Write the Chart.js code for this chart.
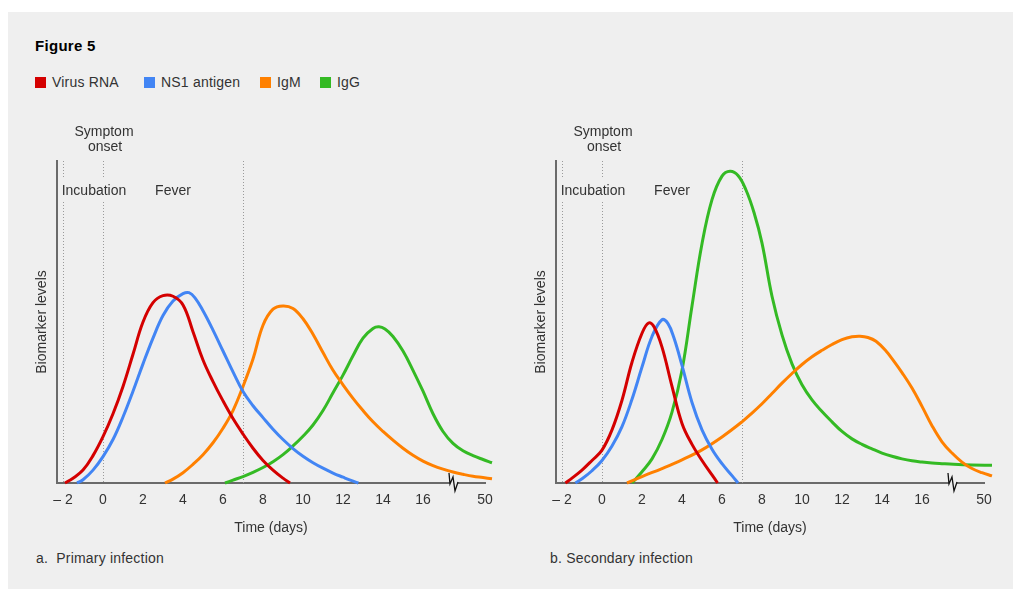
<!DOCTYPE html>
<html>
<head>
<meta charset="utf-8">
<script src="https://cdn.jsdelivr.net/npm/chart.js@4.4.1/dist/chart.umd.min.js"></script>
<style>
  body { margin: 0; background: #fff; font-family: "Liberation Sans", Arial, sans-serif; color: #333; }
  #page { position: absolute; left: 8px; top: 12px; width: 1005px; height: 577px; background: #efefef; }
  .abs { position: absolute; white-space: nowrap; }
  #title { left: 35px; top: 37px; font-size: 15px; font-weight: 900; color: #000; letter-spacing: 0.3px; }
  .sw { position: absolute; top: 77px; width: 11px; height: 11px; }
  .lt { top: 74px; font-size: 14px; letter-spacing: 0.2px; }
  .cap { top: 550px; font-size: 14px; letter-spacing: 0.2px; }
  canvas { position: absolute; }
</style>
</head>
<body>
<div id="page"></div>
<div class="abs" id="title">Figure 5</div>
<div id="legend"></div>
<div class="abs cap" style="left:36px">a.&nbsp; Primary infection</div>
<div class="abs cap" style="left:550px">b. Secondary infection</div>
<div style="position:absolute;left:0;top:100px;width:510px;height:450px"><canvas id="primary"></canvas></div>
<div style="position:absolute;left:499px;top:100px;width:510px;height:450px"><canvas id="secondary"></canvas></div>
<script>
// series names + colours
var seriesNames = ['Virus RNA', 'NS1 antigen', 'IgM', 'IgG'];
var seriesColors = ['rgb(212, 0, 0)', 'rgb(66, 133, 244)', 'rgb(255, 128, 0)', 'rgb(52, 186, 36)'];

// x axis: days, with a break after 16 and a final "50" tick
var tickDays = [-2, 0, 2, 4, 6, 8, 10, 12, 14, 16];
var breakAt = 17.55;
var fiftyAt = 19.1;
var markerDays = [-2, 0, 7];

// a. primary infection
var priRnaDays = [-1.9, -1.5, -1, -0.5, 0, 0.5, 1, 1.5, 2, 2.5, 3, 3.5, 4, 4.5, 5, 5.5, 6, 6.5, 7, 7.5, 8, 8.5, 9, 9.35];
var priRnaLevels = [0, 1.5, 4, 8.5, 14.4, 21.5, 30, 40, 50, 56, 58.2, 58, 55.3, 47, 38.2, 31.5, 25.5, 20, 15.2, 10.8, 7, 4, 1.5, 0];
var priNs1Days = [-1.3, -1, -0.5, 0, 0.5, 1, 1.5, 2, 2.5, 3, 3.5, 4, 4.3, 4.6, 5, 5.5, 6, 6.5, 7, 7.5, 8, 8.5, 9, 9.5, 10, 10.5, 11, 11.5, 12, 12.4, 12.77];
var priNs1Levels = [0, 1, 4, 8.2, 13.5, 20.5, 28.5, 37, 45, 52, 56.5, 58.8, 59.1, 57.5, 53.5, 47.5, 41, 34.5, 28.4, 24, 20.3, 16.7, 13.5, 10.7, 8.3, 6.3, 4.6, 3.1, 1.8, 0.8, 0];
var priIgmDays = [3.1, 3.5, 4, 4.5, 5, 5.5, 6, 6.5, 7, 7.5, 8, 8.5, 9, 9.5, 10, 10.5, 11, 11.5, 12, 12.5, 13, 13.5, 14, 14.5, 15, 15.5, 16, 16.5, 17, 17.5, 18, 18.5, 19, 19.45];
var priIgmLevels = [0, 1.2, 3.2, 5.8, 8.8, 12.5, 17, 22.5, 30, 38.5, 49, 54, 55, 54.2, 51, 46.2, 40.5, 35, 30.5, 26.3, 22.5, 19, 16, 13.3, 10.8, 8.6, 6.8, 5.4, 4.3, 3.4, 2.7, 2.1, 1.7, 1.3];
var priIggDays = [6.1, 6.5, 7, 7.5, 8, 8.5, 9, 9.5, 10, 10.5, 11, 11.5, 12, 12.5, 13, 13.5, 13.8, 14.1, 14.5, 15, 15.5, 16, 16.5, 17, 17.5, 18, 18.5, 19, 19.45];
var priIggLevels = [0, 0.9, 2, 3.3, 4.8, 6.6, 8.8, 11.5, 14.5, 18, 22.5, 28, 33.5, 39.5, 45, 48, 48.5, 47.8, 45.5, 41, 35, 28.5, 21.5, 16, 12.3, 10, 8.5, 7.3, 6.3];

// b. secondary infection
var secRnaDays = [-1.83, -1.5, -1, -0.5, 0, 0.5, 1, 1.5, 2, 2.33, 2.6, 3, 3.5, 4, 4.5, 5, 5.5, 5.78];
var secRnaLevels = [0, 1.5, 4, 7, 10.2, 16.5, 25.7, 37.5, 46.5, 49.7, 48.5, 42.2, 30, 18.5, 12, 7, 2.5, 0];
var secNs1Days = [-1.33, -1, -0.5, 0, 0.5, 1, 1.5, 2, 2.5, 3, 3.3, 3.6, 4, 4.5, 5, 5.5, 6, 6.5, 6.8];
var secNs1Levels = [0, 1.3, 3.8, 7, 11.5, 17.5, 26, 36, 45.5, 50.7, 49.5, 45, 36.5, 25, 16.5, 10.5, 6, 2.3, 0];
var secIgmDays = [1.25, 2, 3, 4, 5, 6, 7, 7.5, 8, 8.5, 9, 9.5, 10, 10.5, 11, 11.5, 12, 12.5, 12.9, 13.3, 13.7, 14.2, 14.6, 15, 15.5, 16, 16.5, 17, 17.5, 18, 18.5, 19, 19.5];
var secIgmLevels = [0, 2, 4.5, 7.2, 10.3, 14.3, 19, 21.7, 24.6, 27.8, 31, 34, 36.8, 39.2, 41.2, 43, 44.5, 45.4, 45.6, 45.2, 44, 41, 37.8, 34.3, 29.5, 23.8, 17.8, 12.8, 9.3, 6.5, 4.5, 3.2, 2.2];
var secIggDays = [1.5, 2, 2.5, 3, 3.5, 4, 4.5, 5, 5.5, 6, 6.4, 6.8, 7.2, 7.6, 8, 8.5, 9, 9.5, 10, 10.5, 11, 11.5, 12, 12.5, 13, 13.5, 14, 14.5, 15, 15.5, 16, 16.5, 17, 17.58, 18.5, 19.5];
var secIggLevels = [0, 3.5, 7.5, 13.5, 22, 35, 55, 74.3, 88, 95.3, 96.8, 95.5, 91, 84, 74.5, 58, 46, 37, 30.5, 25.8, 22.2, 19, 16, 13.7, 12, 10.6, 9.3, 8.3, 7.5, 6.9, 6.5, 6.2, 6, 5.8, 5.6, 5.5];

var BG = '#efefef';
var FONT = '"Liberation Sans", Arial, sans-serif';

function init(){
  Chart.defaults.font.family = FONT;
  Chart.defaults.font.size = 14;
  Chart.defaults.color = '#333';

  buildLegend();

  createPanel('primary', [
    [priRnaDays, priRnaLevels], [priNs1Days, priNs1Levels],
    [priIgmDays, priIgmLevels], [priIggDays, priIggLevels]
  ]);
  createPanel('secondary', [
    [secRnaDays, secRnaLevels], [secNs1Days, secNs1Levels],
    [secIgmDays, secIgmLevels], [secIggDays, secIggLevels]
  ]);
}

function buildLegend(){
  var swatchX = [35, 144, 260, 320];
  var legend = document.getElementById('legend');
  seriesNames.forEach(function(name, i){
    var sw = document.createElement('div');
    sw.className = 'sw';
    sw.style.left = swatchX[i] + 'px';
    sw.style.background = seriesColors[i];
    legend.appendChild(sw);
    var t = document.createElement('div');
    t.className = 'abs lt';
    t.style.left = (swatchX[i] + 17) + 'px';
    t.textContent = name;
    legend.appendChild(t);
  });
}

function toPoints(xs, ys){
  return xs.map(function(x, i){ return {x: x, y: ys[i]}; });
}

// dotted phase lines, phase labels and the axis break
var phasePlugin = {
  id: 'phases',
  beforeDatasetsDraw: function(chart){
    var ctx = chart.ctx;
    var area = chart.chartArea;
    var xs = chart.scales.x;
    var labelY = area.top + 30;

    ctx.save();
    ctx.strokeStyle = '#9a9a9a';
    ctx.lineWidth = 1;
    ctx.setLineDash([1, 2]);
    markerDays.forEach(function(d){
      var px = Math.round(xs.getPixelForValue(d)) + 0.5;
      ctx.beginPath();
      if (d < 1) {
        ctx.moveTo(px, area.top);
        ctx.lineTo(px, labelY - 13);
        ctx.moveTo(px, labelY + 11);
        ctx.lineTo(px, area.bottom);
      } else {
        ctx.moveTo(px, area.top);
        ctx.lineTo(px, area.bottom);
      }
      ctx.stroke();
    });
    ctx.setLineDash([]);

    ctx.fillStyle = '#333';
    ctx.font = '14px ' + FONT;
    ctx.textAlign = 'center';
    ctx.textBaseline = 'middle';
    ctx.fillText('Incubation', xs.getPixelForValue(-0.45), labelY);
    ctx.fillText('Fever', xs.getPixelForValue(3.5), labelY);
    ctx.fillText('Symptom', xs.getPixelForValue(0.05), area.top - 29);
    ctx.fillText('onset', xs.getPixelForValue(0.1), area.top - 14);
    ctx.restore();
  },
  afterDraw: function(chart){
    var ctx = chart.ctx;
    var bx = chart.scales.x.getPixelForValue(breakAt);
    var by = chart.chartArea.bottom;
    ctx.save();
    ctx.fillStyle = BG;
    ctx.fillRect(bx - 4, by - 2, 8, 4);
    ctx.strokeStyle = '#111';
    ctx.lineWidth = 1.3;
    ctx.beginPath();
    ctx.moveTo(bx - 5, by - 10);
    ctx.lineTo(bx - 4, by + 1);
    ctx.lineTo(bx - 1, by - 6);
    ctx.lineTo(bx + 1, by + 8);
    ctx.lineTo(bx + 4, by - 1);
    ctx.stroke();
    ctx.restore();
  }
};

function createPanel(id, series){
  var element = document.getElementById(id).getContext('2d');

  var datasets = series.map(function(s, i){
    return {
      label: seriesNames[i],
      data: toPoints(s[0], s[1]),
      borderColor: seriesColors[i],
      backgroundColor: seriesColors[i],
      borderWidth: 3,
      pointRadius: 0,
      fill: false,
      tension: 0.4,
      clip: false
    };
  });

  var chart = new Chart(element, {
    type: 'line',
    data: { datasets: datasets },
    options: {
      responsive: true,
      maintainAspectRatio: false,
      animation: false,
      layout: { padding: { left: 0, right: 25, top: 61, bottom: 7 } },
      plugins: { legend: { display: false }, tooltip: { enabled: false } },
      scales: {
        x: {
          type: 'linear',
          min: -2.3,
          max: fiftyAt,
          grid: { display: false, drawTicks: false },
          border: { color: '#6a6a6a', width: 2 },
          afterBuildTicks: function(scale){
            scale.ticks = tickDays.concat([fiftyAt]).map(function(v){ return {value: v}; });
          },
          afterFit: function(scale){ scale.height = 60; },
          ticks: {
            autoSkip: false,
            maxRotation: 0,
            padding: 9,
            color: '#333',
            callback: function(v){
              if (v === fiftyAt) return '50';
              if (v < 0) return '\u2013 ' + Math.abs(v);
              return v;
            }
          },
          title: { display: true, text: 'Time (days)', color: '#333', padding: { top: 0, bottom: 6 } }
        },
        y: {
          min: 0,
          max: 100,
          grid: { display: false, drawTicks: false },
          border: { color: '#6a6a6a', width: 2 },
          ticks: { display: false },
          afterFit: function(scale){ scale.width = 57; },
          title: { display: true, text: 'Biomarker levels', color: '#333', padding: { top: 34, bottom: 0 } }
        }
      }
    },
    plugins: [phasePlugin]
  });
}

init();
</script>
</body>
</html>
